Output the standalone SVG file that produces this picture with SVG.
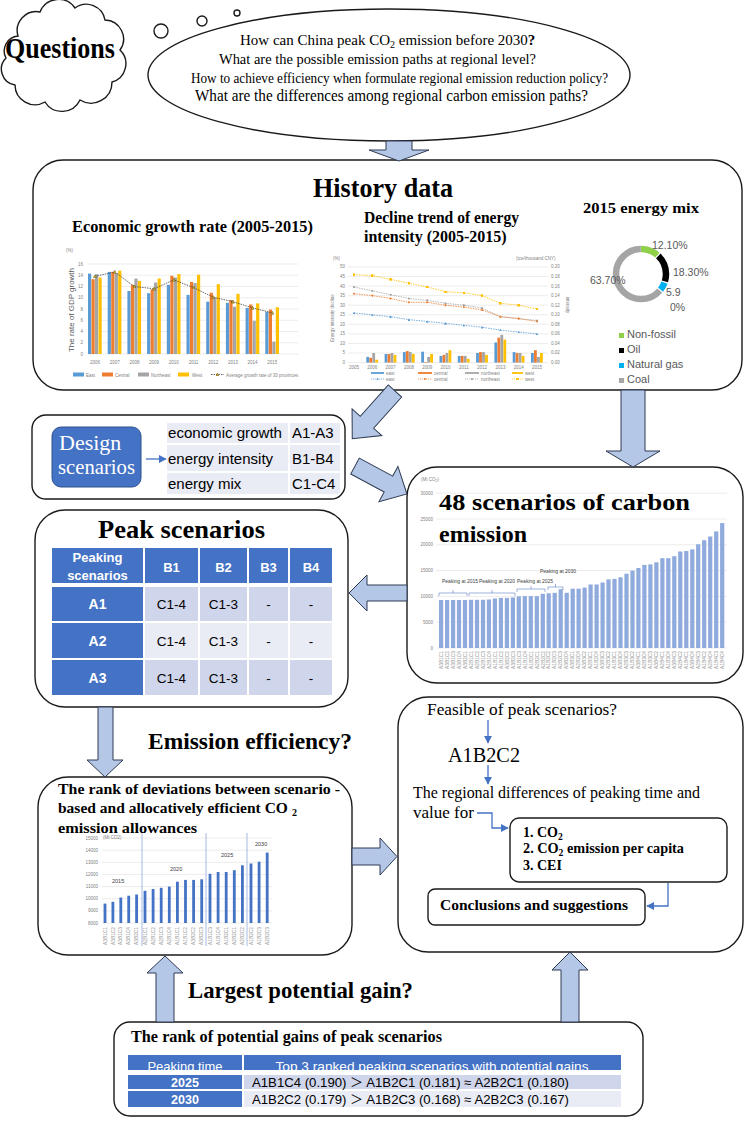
<svg xmlns="http://www.w3.org/2000/svg" width="750" height="1125" viewBox="0 0 750 1125">
<defs>
<style>
.box{fill:#fff;stroke:#1a1a1a;stroke-width:1.4}
.ba{fill:#b4c7e7;stroke:#2f3b52;stroke-width:1}
.sf{font-family:"Liberation Serif","Times New Roman",serif}
.ss{font-family:"Liberation Sans",Arial,sans-serif}
.bd{font-weight:bold}
.g{stroke:#d9d9d9;stroke-width:0.5}
.tk{font-family:"Liberation Sans",Arial,sans-serif;font-size:4.5px;fill:#7f7f7f}
.cb{fill:#5b9bd5}.co{fill:#ed7d31}.cg{fill:#a5a5a5}.cy{fill:#ffc000}
.tl{stroke:#4472c4;stroke-width:1.3;fill:none}
.b48{fill:#8faadc}
.brk{fill:#4472c4}
.xl{font-family:"Liberation Sans",Arial,sans-serif;font-size:4.8px;fill:#8c8c8c}
.hd{fill:#4472c4}
.r1{fill:#cfd5ea}.r2{fill:#e9ebf5}
.wt{fill:#fff}
</style>
<marker id="ah" viewBox="0 0 10 10" refX="9" refY="5" markerWidth="6" markerHeight="6" orient="auto"><path d="M0,0 L10,5 L0,10 z" fill="#4472c4"/></marker>
<marker id="my" viewBox="0 0 4 4" refX="2" refY="2" markerWidth="2.6" markerHeight="2.6" markerUnits="userSpaceOnUse"><rect width="4" height="4" fill="#ffc000"/></marker>
<marker id="mg" viewBox="0 0 4 4" refX="2" refY="2" markerWidth="2.2" markerHeight="2.2" markerUnits="userSpaceOnUse"><circle cx="2" cy="2" r="2" fill="#a5a5a5"/></marker>
<marker id="mo" viewBox="0 0 4 4" refX="2" refY="2" markerWidth="2.6" markerHeight="2.6" markerUnits="userSpaceOnUse"><path d="M2,0 L4,2 L2,4 L0,2 z" fill="#ed7d31"/></marker>
<marker id="mb" viewBox="0 0 4 4" refX="2" refY="2" markerWidth="2.6" markerHeight="2.6" markerUnits="userSpaceOnUse"><path d="M2,0 L4,4 L0,4 z" fill="#5b9bd5"/></marker>
<marker id="mt" viewBox="0 0 4 4" refX="2" refY="2" markerWidth="3.6" markerHeight="3.6" markerUnits="userSpaceOnUse"><path d="M2,0.2 L3.8,3.6 L0.2,3.6 z" fill="#d6b23a" stroke="#5a4a10" stroke-width="0.5"/></marker>
<clipPath id="hdr"><rect x="128" y="1055" width="493" height="15"/></clipPath>
</defs>
<rect width="750" height="1125" fill="#fff"/>

<g id="questions-cloud">
<path class="box" d="M18,36 A19,19 0 0 1 40,12 A20,20 0 0 1 75,8 A19,19 0 0 1 105,20 A19,19 0 0 1 120,50 A19,19 0 0 1 112,82 A21,21 0 0 1 80,100 A20,20 0 0 1 45,102 A20,20 0 0 1 15,85 A16,16 0 0 1 6,58 A15,15 0 0 1 18,36 Z"/>
<text class="sf bd" x="5" y="58" font-size="30" textLength="110" lengthAdjust="spacingAndGlyphs">Questions</text>
</g>

<g id="questions-bubble">
<circle class="box" cx="161" cy="31" r="7"/>
<circle class="box" cx="202" cy="21" r="5"/>
<circle class="box" cx="237" cy="13" r="3"/>
<ellipse class="box" cx="389" cy="75" rx="241" ry="66"/>
<text class="sf" x="240" y="45" font-size="15">How can China peak CO<tspan font-size="10" dy="3">2</tspan><tspan dy="-3"> emission before 2030<tspan font-weight="bold">?</tspan></tspan></text>
<text class="sf" x="219" y="64" font-size="15" textLength="317" lengthAdjust="spacingAndGlyphs">What are the possible emission paths at regional level?</text>
<text class="sf" x="191" y="83" font-size="14" textLength="417" lengthAdjust="spacingAndGlyphs">How to achieve efficiency when formulate regional emission reduction policy?</text>
<text class="sf" x="195" y="101" font-size="16.5" textLength="393" lengthAdjust="spacingAndGlyphs">What are the differences among regional carbon emission paths?</text>
</g>

<g id="history">
<rect class="box" x="33" y="160" width="709" height="230" rx="30"/>
<text class="sf bd" x="313" y="197" font-size="27" textLength="140" lengthAdjust="spacingAndGlyphs">History data</text>
<text class="sf bd" x="72" y="232" font-size="16.5" textLength="241" lengthAdjust="spacingAndGlyphs">Economic growth rate (2005-2015)</text>
<text class="sf bd" x="364" y="223" font-size="16" textLength="155" lengthAdjust="spacingAndGlyphs">Decline trend of energy</text>
<text class="sf bd" x="364" y="242" font-size="16">intensity (2005-2015)</text>
<text class="sf bd" x="583" y="213" font-size="15.5" textLength="116" lengthAdjust="spacingAndGlyphs">2015 energy mix</text>

<!-- chart 1 -->
<g class="g">
<line x1="88" y1="354" x2="298" y2="354"/><line x1="88" y1="342.75" x2="298" y2="342.75"/><line x1="88" y1="331.5" x2="298" y2="331.5"/><line x1="88" y1="320.25" x2="298" y2="320.25"/><line x1="88" y1="309" x2="298" y2="309"/><line x1="88" y1="297.75" x2="298" y2="297.75"/><line x1="88" y1="286.5" x2="298" y2="286.5"/><line x1="88" y1="275.25" x2="298" y2="275.25"/><line x1="88" y1="264" x2="298" y2="264"/>
</g>
<g class="tk" text-anchor="end">
<text x="83" y="355.5">0</text><text x="83" y="344.2">2</text><text x="83" y="333">4</text><text x="83" y="321.7">6</text><text x="83" y="310.5">8</text><text x="83" y="299.2">10</text><text x="83" y="288">12</text><text x="83" y="276.7">14</text><text x="83" y="265.5">16</text>
</g>
<text class="tk" x="66" y="252">(%)</text>
<text class="ss" transform="translate(74,310) rotate(-90)" text-anchor="middle" font-size="7" fill="#595959" textLength="84" lengthAdjust="spacingAndGlyphs">The rate of GDP growth</text>
<g transform="translate(88,354)"><rect class="cb" x="0" y="-80.4" width="3.2" height="80.4"/><rect class="co" x="3.5" y="-74.8" width="3.2" height="74.8"/><rect class="cg" x="7" y="-79.9" width="3.2" height="79.9"/><rect class="cy" x="10.5" y="-76.5" width="3.2" height="76.5"/></g>
<g transform="translate(107.7,354)"><rect class="cb" x="0" y="-82.1" width="3.2" height="82.1"/><rect class="co" x="3.5" y="-82.1" width="3.2" height="82.1"/><rect class="cg" x="7" y="-81" width="3.2" height="81"/><rect class="cy" x="10.5" y="-83.3" width="3.2" height="83.3"/></g>
<g transform="translate(127.4,354)"><rect class="cb" x="0" y="-63" width="3.2" height="63"/><rect class="co" x="3.5" y="-69.2" width="3.2" height="69.2"/><rect class="cg" x="7" y="-75.4" width="3.2" height="75.4"/><rect class="cy" x="10.5" y="-73.1" width="3.2" height="73.1"/></g>
<g transform="translate(147.1,354)"><rect class="cb" x="0" y="-60.8" width="3.2" height="60.8"/><rect class="co" x="3.5" y="-64.7" width="3.2" height="64.7"/><rect class="cg" x="7" y="-71.4" width="3.2" height="71.4"/><rect class="cy" x="10.5" y="-75.4" width="3.2" height="75.4"/></g>
<g transform="translate(166.8,354)"><rect class="cb" x="0" y="-69.2" width="3.2" height="69.2"/><rect class="co" x="3.5" y="-78.2" width="3.2" height="78.2"/><rect class="cg" x="7" y="-76.5" width="3.2" height="76.5"/><rect class="cy" x="10.5" y="-79.9" width="3.2" height="79.9"/></g>
<g transform="translate(186.5,354)"><rect class="cb" x="0" y="-59.1" width="3.2" height="59.1"/><rect class="co" x="3.5" y="-72" width="3.2" height="72"/><rect class="cg" x="7" y="-70.9" width="3.2" height="70.9"/><rect class="cy" x="10.5" y="-79.3" width="3.2" height="79.3"/></g>
<g transform="translate(206.2,354)"><rect class="cb" x="0" y="-52.3" width="3.2" height="52.3"/><rect class="co" x="3.5" y="-61.3" width="3.2" height="61.3"/><rect class="cg" x="7" y="-56.3" width="3.2" height="56.3"/><rect class="cy" x="10.5" y="-69.8" width="3.2" height="69.8"/></g>
<g transform="translate(225.9,354)"><rect class="cb" x="0" y="-51.2" width="3.2" height="51.2"/><rect class="co" x="3.5" y="-54" width="3.2" height="54"/><rect class="cg" x="7" y="-47.3" width="3.2" height="47.3"/><rect class="cy" x="10.5" y="-60.2" width="3.2" height="60.2"/></g>
<g transform="translate(245.6,354)"><rect class="cb" x="0" y="-46.1" width="3.2" height="46.1"/><rect class="co" x="3.5" y="-49.5" width="3.2" height="49.5"/><rect class="cg" x="7" y="-33.2" width="3.2" height="33.2"/><rect class="cy" x="10.5" y="-50.6" width="3.2" height="50.6"/></g>
<g transform="translate(265.3,354)"><rect class="cb" x="0" y="-42.2" width="3.2" height="42.2"/><rect class="co" x="3.5" y="-44.4" width="3.2" height="44.4"/><rect class="cg" x="7" y="-12.4" width="3.2" height="12.4"/><rect class="cy" x="10.5" y="-46.7" width="3.2" height="46.7"/></g>
<polyline points="95,276.4 114.7,271.9 134.4,286.5 154.1,288.8 173.8,279.8 193.5,287.6 213.2,297.2 232.9,301.7 252.6,307.9 272.3,312.9" fill="none" stroke="#404040" stroke-width="0.8" stroke-dasharray="1.5,1" marker-start="url(#mt)" marker-mid="url(#mt)" marker-end="url(#mt)"/>
<g class="tk" text-anchor="middle" fill="#595959">
<text x="95" y="364">2006</text><text x="114.7" y="364">2007</text><text x="134.4" y="364">2008</text><text x="154.1" y="364">2009</text><text x="173.8" y="364">2010</text><text x="193.5" y="364">2011</text><text x="213.2" y="364">2012</text><text x="232.9" y="364">2013</text><text x="252.6" y="364">2014</text><text x="272.3" y="364">2015</text>
</g>
<rect class="cb" x="73" y="372.5" width="11" height="4"/><text class="tk" x="86" y="376.5">East</text>
<rect class="co" x="102" y="372.5" width="11" height="4"/><text class="tk" x="115" y="376.5">Central</text>
<rect class="cg" x="138" y="372.5" width="11" height="4"/><text class="tk" x="151" y="376.5">Northeast</text>
<rect class="cy" x="178" y="372.5" width="11" height="4"/><text class="tk" x="192" y="376.5">West</text>
<polyline points="211,374.5 217.5,374.5 224,374.5" fill="none" stroke="#404040" stroke-width="0.8" stroke-dasharray="1.5,1" marker-mid="url(#mt)"/>
<text class="tk" x="226" y="376.5">Average growth rate of 30 provinces</text>

<!-- chart 2 -->
<g class="g">
<line x1="348" y1="362.6" x2="548" y2="362.6"/><line x1="348" y1="353" x2="548" y2="353"/><line x1="348" y1="343.5" x2="548" y2="343.5"/><line x1="348" y1="333.9" x2="548" y2="333.9"/><line x1="348" y1="324.3" x2="548" y2="324.3"/><line x1="348" y1="314.8" x2="548" y2="314.8"/><line x1="348" y1="305.2" x2="548" y2="305.2"/><line x1="348" y1="295.7" x2="548" y2="295.7"/><line x1="348" y1="286.1" x2="548" y2="286.1"/><line x1="348" y1="276.5" x2="548" y2="276.5"/><line x1="348" y1="266.9" x2="548" y2="266.9"/>
</g>
<g class="tk" font-size="4" text-anchor="end">
<text x="345" y="364">0</text><text x="345" y="354.4">5</text><text x="345" y="344.9">10</text><text x="345" y="335.3">15</text><text x="345" y="325.7">20</text><text x="345" y="316.2">25</text><text x="345" y="306.6">30</text><text x="345" y="297.1">35</text><text x="345" y="287.5">40</text><text x="345" y="277.9">45</text><text x="345" y="268.3">50</text>
</g>
<g class="tk" font-size="4">
<text x="551" y="364">0.00</text><text x="551" y="354.4">0.02</text><text x="551" y="344.9">0.04</text><text x="551" y="335.3">0.06</text><text x="551" y="325.7">0.08</text><text x="551" y="316.2">0.10</text><text x="551" y="306.6">0.12</text><text x="551" y="297.1">0.14</text><text x="551" y="287.5">0.16</text><text x="551" y="277.9">0.18</text><text x="551" y="268.3">0.20</text>
</g>
<text class="tk" font-size="4" x="333" y="260">(%)</text>
<text class="tk" font-size="4" x="516" y="260">(tce/thousand CNY)</text>
<text class="tk" font-size="4.5" transform="translate(334,318) rotate(-90)" text-anchor="middle">Energy intensity decline</text>
<text class="tk" font-size="4.5" transform="translate(566,305) rotate(90)" text-anchor="middle">intensity</text>
<g transform="translate(372.3,362.6)"><rect class="cb" x="-6" y="-5.7" width="2.8" height="5.7"/><rect class="co" x="-3" y="-4.8" width="2.8" height="4.8"/><rect class="cg" x="0" y="-9.6" width="2.8" height="9.6"/><rect class="cy" x="3" y="-2.9" width="2.8" height="2.9"/></g>
<g transform="translate(390.6,362.6)"><rect class="cb" x="-6" y="-8.6" width="2.8" height="8.6"/><rect class="co" x="-3" y="-8.6" width="2.8" height="8.6"/><rect class="cg" x="0" y="-9.6" width="2.8" height="9.6"/><rect class="cy" x="3" y="-7.7" width="2.8" height="7.7"/></g>
<g transform="translate(408.9,362.6)"><rect class="cb" x="-6" y="-10.5" width="2.8" height="10.5"/><rect class="co" x="-3" y="-11.5" width="2.8" height="11.5"/><rect class="cg" x="0" y="-10.5" width="2.8" height="10.5"/><rect class="cy" x="3" y="-8.6" width="2.8" height="8.6"/></g>
<g transform="translate(427.2,362.6)"><rect class="cb" x="-6" y="-10.9" width="2.8" height="10.9"/><rect class="co" x="-3" y="-0.6" width="2.8" height="0.6"/><rect class="cg" x="0" y="-5.7" width="2.8" height="5.7"/><rect class="cy" x="3" y="-8.6" width="2.8" height="8.6"/></g>
<g transform="translate(445.5,362.6)"><rect class="cb" x="-6" y="-6.7" width="2.8" height="6.7"/><rect class="co" x="-3" y="-7.7" width="2.8" height="7.7"/><rect class="cg" x="0" y="-9.6" width="2.8" height="9.6"/><rect class="cy" x="3" y="-12.4" width="2.8" height="12.4"/></g>
<g transform="translate(463.8,362.6)"><rect class="cb" x="-6" y="-6.7" width="2.8" height="6.7"/><rect class="co" x="-3" y="-6.7" width="2.8" height="6.7"/><rect class="cg" x="0" y="-6.7" width="2.8" height="6.7"/><rect class="cy" x="3" y="-3.8" width="2.8" height="3.8"/></g>
<g transform="translate(482.1,362.6)"><rect class="cb" x="-6" y="-9.6" width="2.8" height="9.6"/><rect class="co" x="-3" y="-10.5" width="2.8" height="10.5"/><rect class="cg" x="0" y="-10.5" width="2.8" height="10.5"/><rect class="cy" x="3" y="-7.7" width="2.8" height="7.7"/></g>
<g transform="translate(500.4,362.6)"><rect class="cb" x="-6" y="-20.1" width="2.8" height="20.1"/><rect class="co" x="-3" y="-24.9" width="2.8" height="24.9"/><rect class="cg" x="0" y="-27.7" width="2.8" height="27.7"/><rect class="cy" x="3" y="-23" width="2.8" height="23"/></g>
<g transform="translate(518.7,362.6)"><rect class="cb" x="-6" y="-10.5" width="2.8" height="10.5"/><rect class="co" x="-3" y="-9.6" width="2.8" height="9.6"/><rect class="cg" x="0" y="-9.6" width="2.8" height="9.6"/><rect class="cy" x="3" y="-6.7" width="2.8" height="6.7"/></g>
<g transform="translate(537,362.6)"><rect class="cb" x="-6" y="-9.6" width="2.8" height="9.6"/><rect class="co" x="-3" y="-12.4" width="2.8" height="12.4"/><rect class="cg" x="0" y="-5.7" width="2.8" height="5.7"/><rect class="cy" x="3" y="-9.6" width="2.8" height="9.6"/></g>
<polyline points="354,274.6 372.3,275.6 390.6,279.4 408.9,283.2 427.2,287 445.5,291.8 463.8,292.8 482.1,295.6 500.4,303.3 518.7,305.2 537,309" fill="none" stroke="#ffc000" stroke-width="0.8" stroke-dasharray="1.5,1" marker-start="url(#my)" marker-mid="url(#my)" marker-end="url(#my)"/>
<polyline points="354,287 372.3,290.9 390.6,294.7 408.9,298.5 427.2,300.4 445.5,303.3 463.8,305.2 482.1,308.1 500.4,316.7 518.7,318.6 537,320.5" fill="none" stroke="#a5a5a5" stroke-width="0.8" stroke-dasharray="1.5,1" marker-start="url(#mg)" marker-mid="url(#mg)" marker-end="url(#mg)"/>
<polyline points="354,293.7 372.3,295.6 390.6,298.5 408.9,302.3 427.2,302.3 445.5,305.2 463.8,307.1 482.1,310 500.4,316.7 518.7,318.6 537,321.5" fill="none" stroke="#ed7d31" stroke-width="0.8" stroke-dasharray="1.5,1" marker-start="url(#mo)" marker-mid="url(#mo)" marker-end="url(#mo)"/>
<polyline points="354,312.9 372.3,314.8 390.6,316.7 408.9,319.6 427.2,321.5 445.5,323.4 463.8,325.3 482.1,327.2 500.4,330.1 518.7,332 537,333.9" fill="none" stroke="#5b9bd5" stroke-width="0.8" stroke-dasharray="1.5,1" marker-start="url(#mb)" marker-mid="url(#mb)" marker-end="url(#mb)"/>
<g class="tk" font-size="4" text-anchor="middle">
<text x="354" y="369">2005</text><text x="372.3" y="369">2006</text><text x="390.6" y="369">2007</text><text x="408.9" y="369">2008</text><text x="427.2" y="369">2009</text><text x="445.5" y="369">2010</text><text x="463.8" y="369">2011</text><text x="482.1" y="369">2012</text><text x="500.4" y="369">2013</text><text x="518.7" y="369">2014</text><text x="537" y="369">2015</text>
</g>
<g stroke-width="1.8"><line x1="371" y1="373" x2="384" y2="373" stroke="#5b9bd5"/><line x1="418" y1="373" x2="432" y2="373" stroke="#ed7d31"/><line x1="465" y1="373" x2="479" y2="373" stroke="#a5a5a5"/><line x1="512" y1="373" x2="523" y2="373" stroke="#ffc000"/></g>
<g class="tk" font-size="3.8"><text x="386" y="374.5">east</text><text x="434" y="374.5">central</text><text x="481" y="374.5">northeast</text><text x="525" y="374.5">west</text>
<text x="386" y="380.5">east</text><text x="434" y="380.5">central</text><text x="481" y="380.5">northeast</text><text x="525" y="380.5">west</text></g>
<polyline points="371,379 377.5,379 384,379" fill="none" stroke="#5b9bd5" stroke-width="0.7" stroke-dasharray="1.2,0.8" marker-mid="url(#mb)"/>
<polyline points="418,379 425,379 432,379" fill="none" stroke="#ed7d31" stroke-width="0.7" stroke-dasharray="1.2,0.8" marker-mid="url(#mo)"/>
<polyline points="465,379 472,379 479,379" fill="none" stroke="#a5a5a5" stroke-width="0.7" stroke-dasharray="1.2,0.8" marker-mid="url(#mg)"/>
<polyline points="512,379 517.5,379 523,379" fill="none" stroke="#ffc000" stroke-width="0.7" stroke-dasharray="1.2,0.8" marker-mid="url(#my)"/>

<!-- energy mix donut -->
<g fill="none" stroke-width="6.5" transform="rotate(-90 641 274)">
<circle cx="641" cy="274" r="25" stroke="#8fcf4a" stroke-dasharray="17.8 200"/>
<circle cx="641" cy="274" r="25" stroke="#000" stroke-dasharray="27.5 200" stroke-dashoffset="-19"/>
<circle cx="641" cy="274" r="25" stroke="#00b0f0" stroke-dasharray="8.1 200" stroke-dashoffset="-47.7"/>
<circle cx="641" cy="274" r="25" stroke="#a5a5a5" stroke-dasharray="98.9 200" stroke-dashoffset="-57"/>
</g>
<g class="ss" font-size="10.5" fill="#595959">
<text x="652" y="249">12.10%</text>
<text x="673" y="276">18.30%</text>
<text x="590" y="284">63.70%</text>
<text x="666" y="296">5.9</text>
<text x="670" y="311">0%</text>
</g>
<rect x="619" y="333" width="5" height="5" fill="#8fcf4a"/>
<rect x="619" y="348" width="5" height="5" fill="#000"/>
<rect x="619" y="363" width="5" height="5" fill="#00b0f0"/>
<rect x="619" y="378" width="5" height="5" fill="#a5a5a5"/>
<g class="ss" font-size="11" fill="#595959">
<text x="627" y="338">Non-fossil</text>
<text x="627" y="353">Oil</text>
<text x="627" y="368">Natural gas</text>
<text x="627" y="383">Coal</text>
</g>
</g>

<g id="design">
<rect class="box" x="32" y="415" width="313" height="84" rx="14"/>
<rect x="52" y="427" width="89" height="60" rx="9" fill="#4472c4" stroke="#2f528f" stroke-width="1"/>
<text class="sf" x="59" y="450" font-size="22" fill="#fff">Design</text>
<text class="sf" x="58" y="474" font-size="21" fill="#fff" textLength="77" lengthAdjust="spacingAndGlyphs">scenarios</text>
<rect class="r2" x="167" y="423" width="121" height="20"/><rect class="r2" x="290" y="423" width="50" height="20"/>
<rect class="r2" x="167" y="445" width="121" height="26"/><rect class="r2" x="290" y="445" width="50" height="26"/>
<rect class="r2" x="167" y="473" width="121" height="21"/><rect class="r2" x="290" y="473" width="50" height="21"/>
<g class="ss" font-size="15" fill="#000">
<text x="168" y="438" textLength="114" lengthAdjust="spacingAndGlyphs">economic growth</text><text x="292" y="438">A1-A3</text>
<text x="168" y="464">energy intensity</text><text x="292" y="464">B1-B4</text>
<text x="168" y="489">energy mix</text><text x="292" y="489">C1-C4</text>
</g>
</g>

<g id="peak">
<rect class="box" x="35" y="510" width="313" height="197" rx="30"/>
<text class="sf bd" x="98" y="538" font-size="26" textLength="167" lengthAdjust="spacingAndGlyphs">Peak scenarios</text>
<rect class="hd" x="52" y="548" width="91" height="35"/><rect class="hd" x="145" y="548" width="53" height="35"/><rect class="hd" x="200" y="548" width="47" height="35"/><rect class="hd" x="249" y="548" width="39" height="35"/><rect class="hd" x="290" y="548" width="42" height="35"/>
<rect class="hd" x="52" y="587" width="91" height="34"/><rect class="r1" x="145" y="587" width="53" height="34"/><rect class="r1" x="200" y="587" width="47" height="34"/><rect class="r1" x="249" y="587" width="39" height="34"/><rect class="r1" x="290" y="587" width="42" height="34"/>
<rect class="hd" x="52" y="623" width="91" height="35"/><rect class="r2" x="145" y="623" width="53" height="35"/><rect class="r2" x="200" y="623" width="47" height="35"/><rect class="r2" x="249" y="623" width="39" height="35"/><rect class="r2" x="290" y="623" width="42" height="35"/>
<rect class="hd" x="52" y="660" width="91" height="35"/><rect class="r1" x="145" y="660" width="53" height="35"/><rect class="r1" x="200" y="660" width="47" height="35"/><rect class="r1" x="249" y="660" width="39" height="35"/><rect class="r1" x="290" y="660" width="42" height="35"/>
<g class="ss bd" font-size="13" fill="#fff" text-anchor="middle">
<text x="97.5" y="562">Peaking</text><text x="97.5" y="580">scenarios</text>
<text x="171.5" y="572">B1</text><text x="223.5" y="572">B2</text><text x="268.5" y="572">B3</text><text x="311" y="572">B4</text>
<text x="97.5" y="609" font-size="14">A1</text><text x="97.5" y="646" font-size="14">A2</text><text x="97.5" y="683" font-size="14">A3</text>
</g>
<g class="ss" font-size="13.5" fill="#000" text-anchor="middle">
<text x="171.5" y="609">C1-4</text><text x="223.5" y="609">C1-3</text><text x="268.5" y="609">-</text><text x="311" y="609">-</text>
<text x="171.5" y="646">C1-4</text><text x="223.5" y="646">C1-3</text><text x="268.5" y="646">-</text><text x="311" y="646">-</text>
<text x="171.5" y="683">C1-4</text><text x="223.5" y="683">C1-3</text><text x="268.5" y="683">-</text><text x="311" y="683">-</text>
</g>
</g>

<g id="scenarios48">
<rect class="box" x="407" y="467" width="336" height="216" rx="30"/>
<g class="g">
<line x1="436" y1="648" x2="727" y2="648"/><line x1="436" y1="622.2" x2="727" y2="622.2"/><line x1="436" y1="596.4" x2="727" y2="596.4"/><line x1="436" y1="570.6" x2="727" y2="570.6"/><line x1="436" y1="544.8" x2="727" y2="544.8"/><line x1="436" y1="519" x2="727" y2="519"/><line x1="436" y1="493.2" x2="727" y2="493.2"/>
</g>
<g class="tk" font-size="4.3" text-anchor="end">
<text x="433" y="649.5">0</text><text x="433" y="623.7">5000</text><text x="433" y="597.9">10000</text><text x="433" y="572.1">15000</text><text x="433" y="546.3">20000</text><text x="433" y="520.5">25000</text><text x="433" y="494.7">30000</text>
</g>
<text class="tk" font-size="5" x="421" y="481">(Mt CO<tspan font-size="3.5" dy="1">2</tspan><tspan dy="-1">)</tspan></text>
<g class="b48" transform="translate(0,648) scale(1,-1)">
<rect x="439" y="0" width="4.2" height="48"/><rect x="445" y="0" width="4.2" height="48"/><rect x="451" y="0" width="4.2" height="48"/><rect x="456.9" y="0" width="4.2" height="48"/><rect x="462.9" y="0" width="4.2" height="48"/>
<rect x="468.9" y="0" width="4.2" height="48.2"/><rect x="474.9" y="0" width="4.2" height="48.2"/><rect x="480.9" y="0" width="4.2" height="48.2"/><rect x="486.8" y="0" width="4.2" height="48.5"/><rect x="492.8" y="0" width="4.2" height="49.5"/><rect x="498.8" y="0" width="4.2" height="50.1"/><rect x="504.8" y="0" width="4.2" height="50.1"/><rect x="510.8" y="0" width="4.2" height="50.6"/>
<rect x="516.7" y="0" width="4.2" height="51.6"/><rect x="522.7" y="0" width="4.2" height="51.9"/><rect x="528.7" y="0" width="4.2" height="51.9"/><rect x="534.7" y="0" width="4.2" height="51.9"/><rect x="540.7" y="0" width="4.2" height="54.2"/>
<rect x="546.6" y="0" width="4.2" height="54.7"/><rect x="552.6" y="0" width="4.2" height="55.2"/><rect x="558.6" y="0" width="4.2" height="58.8"/>
<rect x="564.6" y="0" width="4.2" height="55.2"/><rect x="570.6" y="0" width="4.2" height="59.3"/><rect x="576.5" y="0" width="4.2" height="59.3"/><rect x="582.5" y="0" width="4.2" height="60.4"/><rect x="588.5" y="0" width="4.2" height="63.5"/><rect x="594.5" y="0" width="4.2" height="63.5"/><rect x="600.5" y="0" width="4.2" height="65.5"/><rect x="606.4" y="0" width="4.2" height="68.6"/><rect x="612.4" y="0" width="4.2" height="69.1"/><rect x="618.4" y="0" width="4.2" height="70.7"/><rect x="624.4" y="0" width="4.2" height="74.3"/><rect x="630.4" y="0" width="4.2" height="77.4"/><rect x="636.3" y="0" width="4.2" height="80"/><rect x="642.3" y="0" width="4.2" height="83.1"/><rect x="648.3" y="0" width="4.2" height="83.6"/><rect x="654.3" y="0" width="4.2" height="85.7"/><rect x="660.3" y="0" width="4.2" height="89.8"/><rect x="666.2" y="0" width="4.2" height="89.8"/><rect x="672.2" y="0" width="4.2" height="91.8"/><rect x="678.2" y="0" width="4.2" height="96.5"/><rect x="684.2" y="0" width="4.2" height="97"/><rect x="690.2" y="0" width="4.2" height="98.6"/><rect x="696.1" y="0" width="4.2" height="103.7"/><rect x="702.1" y="0" width="4.2" height="107.8"/><rect x="708.1" y="0" width="4.2" height="111.5"/><rect x="714.1" y="0" width="4.2" height="116.6"/><rect x="720.1" y="0" width="4.2" height="124.9"/>
</g>
<g class="xl" text-anchor="end">
<text transform="translate(442.8,651) rotate(-90)">A3B1C1</text><text transform="translate(448.8,651) rotate(-90)">A3B1C2</text><text transform="translate(454.8,651) rotate(-90)">A3B1C3</text><text transform="translate(460.7,651) rotate(-90)">A3B1C4</text><text transform="translate(466.7,651) rotate(-90)">A3B2C1</text>
<text transform="translate(472.7,651) rotate(-90)">A2B1C1</text><text transform="translate(478.7,651) rotate(-90)">A2B1C2</text><text transform="translate(484.7,651) rotate(-90)">A2B1C3</text><text transform="translate(490.6,651) rotate(-90)">A2B1C4</text><text transform="translate(496.6,651) rotate(-90)">A1B1C1</text><text transform="translate(502.6,651) rotate(-90)">A1B1C2</text><text transform="translate(508.6,651) rotate(-90)">A3B2C2</text><text transform="translate(514.6,651) rotate(-90)">A3B2C3</text>
<text transform="translate(520.5,651) rotate(-90)">A1B1C3</text><text transform="translate(526.5,651) rotate(-90)">A1B1C4</text><text transform="translate(532.5,651) rotate(-90)">A1B2C1</text><text transform="translate(538.5,651) rotate(-90)">A2B2C1</text><text transform="translate(544.5,651) rotate(-90)">A2B2C2</text>
<text transform="translate(550.4,651) rotate(-90)">A1B2C2</text><text transform="translate(556.4,651) rotate(-90)">A1B2C3</text><text transform="translate(562.4,651) rotate(-90)">A2B2C3</text>
<text transform="translate(568.4,651) rotate(-90)">A3B2C4</text><text transform="translate(574.4,651) rotate(-90)">A3B3C1</text><text transform="translate(580.3,651) rotate(-90)">A2B2C4</text><text transform="translate(586.3,651) rotate(-90)">A3B3C2</text><text transform="translate(592.3,651) rotate(-90)">A2B3C1</text><text transform="translate(598.3,651) rotate(-90)">A1B2C4</text><text transform="translate(604.3,651) rotate(-90)">A3B3C3</text><text transform="translate(610.2,651) rotate(-90)">A2B3C2</text><text transform="translate(616.2,651) rotate(-90)">A1B3C1</text><text transform="translate(622.2,651) rotate(-90)">A3B3C4</text><text transform="translate(628.2,651) rotate(-90)">A2B3C3</text><text transform="translate(634.2,651) rotate(-90)">A1B3C2</text><text transform="translate(640.1,651) rotate(-90)">A3B4C1</text><text transform="translate(646.1,651) rotate(-90)">A2B3C4</text><text transform="translate(652.1,651) rotate(-90)">A1B3C3</text><text transform="translate(658.1,651) rotate(-90)">A3B4C2</text><text transform="translate(664.1,651) rotate(-90)">A2B4C1</text><text transform="translate(670,651) rotate(-90)">A1B3C4</text><text transform="translate(676,651) rotate(-90)">A3B4C3</text><text transform="translate(682,651) rotate(-90)">A2B4C2</text><text transform="translate(688,651) rotate(-90)">A1B4C1</text><text transform="translate(694,651) rotate(-90)">A3B4C4</text><text transform="translate(699.9,651) rotate(-90)">A2B4C3</text><text transform="translate(705.9,651) rotate(-90)">A1B4C2</text><text transform="translate(711.9,651) rotate(-90)">A2B4C4</text><text transform="translate(717.9,651) rotate(-90)">A1B4C3</text><text transform="translate(723.9,651) rotate(-90)">A1B4C4</text>
</g>
<g fill="none" stroke="#5b7fc4" stroke-width="0.6">
<path d="M439,596 V593 H467 V596 M453,593 V590"/>
<path d="M469,596 V593 H515 V596 M492,593 V590"/>
<path d="M517,592 V589 H545 V592 M531,589 V586"/>
<path d="M548,590 V587 H563 V590 M555.5,587 V584"/>
</g>
<g class="ss" font-size="5" fill="#404040">
<text x="442" y="583">Peaking at 2015</text><text x="479" y="583">Peaking at 2020</text><text x="517" y="583">Peaking at 2025</text><text x="540" y="573">Peaking at 2030</text>
</g>
<text class="sf bd" x="439" y="510" font-size="24" textLength="251" lengthAdjust="spacingAndGlyphs">48 scenarios of carbon</text>
<text class="sf bd" x="439" y="542" font-size="24">emission</text>
</g>

<g id="rank">
<rect class="box" x="38" y="777" width="314" height="178" rx="30"/>
<g class="g">
<line x1="102" y1="923" x2="272" y2="923"/><line x1="102" y1="910.9" x2="272" y2="910.9"/><line x1="102" y1="898.7" x2="272" y2="898.7"/><line x1="102" y1="886.6" x2="272" y2="886.6"/><line x1="102" y1="874.4" x2="272" y2="874.4"/><line x1="102" y1="862.3" x2="272" y2="862.3"/><line x1="102" y1="850.2" x2="272" y2="850.2"/><line x1="102" y1="838" x2="272" y2="838"/>
</g>
<g class="tk" font-size="4.3" text-anchor="end">
<text x="98" y="924.5">8000</text><text x="98" y="912.4">9000</text><text x="98" y="900.2">10000</text><text x="98" y="888.1">11000</text><text x="98" y="875.9">12000</text><text x="98" y="863.8">13000</text><text x="98" y="851.7">14000</text><text x="98" y="839.5">15000</text>
</g>
<text class="tk" font-size="4" x="103" y="839" fill="#bfbfbf">(Mt CO2)</text>
<g stroke="#8faadc" stroke-width="0.8"><line x1="142" y1="833" x2="142" y2="946"/><line x1="206" y1="833" x2="206" y2="946"/><line x1="247" y1="833" x2="247" y2="946"/></g>
<g class="brk" transform="translate(0,923) scale(1,-1)">
<rect x="103.6" y="0" width="2.8" height="19.4"/><rect x="111.5" y="0" width="2.8" height="21.2"/><rect x="119.4" y="0" width="2.8" height="25.5"/><rect x="127.3" y="0" width="2.8" height="27.3"/><rect x="135.2" y="0" width="2.8" height="28.5"/>
<rect x="143.6" y="0" width="2.8" height="32.2"/><rect x="151.7" y="0" width="2.8" height="34"/><rect x="159.8" y="0" width="2.8" height="35.2"/><rect x="167.9" y="0" width="2.8" height="36.4"/><rect x="176" y="0" width="2.8" height="41.3"/><rect x="184.1" y="0" width="2.8" height="43.1"/><rect x="192.2" y="0" width="2.8" height="43.1"/><rect x="200.3" y="0" width="2.8" height="43.7"/>
<rect x="208.6" y="0" width="2.8" height="49.2"/><rect x="216.7" y="0" width="2.8" height="51"/><rect x="224.8" y="0" width="2.8" height="51"/><rect x="232.9" y="0" width="2.8" height="52.8"/><rect x="241" y="0" width="2.8" height="57.7"/>
<rect x="249.6" y="0" width="2.8" height="59.5"/><rect x="257.7" y="0" width="2.8" height="61.3"/><rect x="265.8" y="0" width="2.8" height="70.4"/>
</g>
<g class="ss" font-size="5.5" fill="#404040"><text x="112" y="883">2015</text><text x="170" y="871">2020</text><text x="221" y="857">2025</text><text x="255" y="846">2030</text></g>
<g class="xl" font-size="4.3" text-anchor="end">
<text transform="translate(106.6,927) rotate(-90)">A3B1C1</text><text transform="translate(114.5,927) rotate(-90)">A3B1C2</text><text transform="translate(122.4,927) rotate(-90)">A3B1C3</text><text transform="translate(130.3,927) rotate(-90)">A3B1C4</text><text transform="translate(138.2,927) rotate(-90)">A3B2C1</text>
<text transform="translate(146.6,927) rotate(-90)">A2B1C1</text><text transform="translate(154.7,927) rotate(-90)">A2B1C2</text><text transform="translate(162.8,927) rotate(-90)">A2B1C3</text><text transform="translate(170.9,927) rotate(-90)">A2B1C4</text><text transform="translate(179,927) rotate(-90)">A1B1C1</text><text transform="translate(187.1,927) rotate(-90)">A1B1C2</text><text transform="translate(195.2,927) rotate(-90)">A3B2C2</text><text transform="translate(203.3,927) rotate(-90)">A3B2C3</text>
<text transform="translate(211.6,927) rotate(-90)">A1B1C3</text><text transform="translate(219.7,927) rotate(-90)">A1B1C4</text><text transform="translate(227.8,927) rotate(-90)">A1B2C1</text><text transform="translate(235.9,927) rotate(-90)">A2B2C1</text><text transform="translate(244,927) rotate(-90)">A2B2C2</text>
<text transform="translate(252.6,927) rotate(-90)">A1B2C2</text><text transform="translate(260.7,927) rotate(-90)">A1B2C3</text><text transform="translate(268.8,927) rotate(-90)">A2B2C3</text>
</g>
<g class="sf bd" font-size="15.5" fill="#000">
<text x="58" y="794" textLength="282" lengthAdjust="spacingAndGlyphs">The rank of deviations between scenario -</text>
<text x="58" y="813">based and allocatively efficient CO<tspan font-size="10" dx="4" dy="3">2</tspan></text>
<text x="58" y="833" textLength="139" lengthAdjust="spacingAndGlyphs">emission allowances</text>
</g>
</g>

<text class="sf bd" x="148" y="749" font-size="23" textLength="204" lengthAdjust="spacingAndGlyphs">Emission  efficiency?</text>

<g id="feasible">
<rect class="box" x="398" y="697" width="345" height="255" rx="30"/>
<text class="sf" x="427" y="715" font-size="17" textLength="190" lengthAdjust="spacingAndGlyphs">Feasible  of  peak scenarios?</text>
<text class="sf" x="448" y="762" font-size="20" textLength="72" lengthAdjust="spacingAndGlyphs">A1B2C2</text>
<text class="sf" x="413" y="798" font-size="17" textLength="287" lengthAdjust="spacingAndGlyphs">The regional  differences of peaking time and</text>
<text class="sf" x="413" y="818" font-size="17">value for</text>
<rect class="box" x="510" y="818" width="217" height="64" rx="9" stroke-width="1.1"/>
<g class="sf bd" font-size="14">
<text x="523" y="837">1. CO<tspan font-size="9.5" dy="3">2</tspan></text>
<text x="523" y="853" textLength="161" lengthAdjust="spacingAndGlyphs">2. CO<tspan font-size="9.5" dy="3">2</tspan><tspan dy="-3"> emission per capita</tspan></text>
<text x="523" y="870">3. CEI</text>
</g>
<rect class="box" x="428" y="889" width="217" height="36" rx="7" stroke-width="1.1"/>
<text class="sf bd" x="440" y="910" font-size="15.5" textLength="188" lengthAdjust="spacingAndGlyphs">Conclusions and suggestions</text>
</g>

<text class="sf bd" x="188" y="998" font-size="23" textLength="225" lengthAdjust="spacingAndGlyphs">Largest potential gain?</text>

<g id="potential">
<rect class="box" x="114" y="1022" width="529" height="94" rx="16"/>
<text class="sf bd" x="131" y="1042" font-size="16.5" textLength="311" lengthAdjust="spacingAndGlyphs">The rank of potential gains of peak scenarios</text>
<rect class="hd" x="128" y="1055" width="114" height="15"/><rect class="hd" x="244" y="1055" width="377" height="15"/>
<g clip-path="url(#hdr)" class="ss" font-size="13" fill="#fff" text-anchor="middle">
<text x="185" y="1071">Peaking time</text>
<text x="432" y="1071" textLength="313" lengthAdjust="spacingAndGlyphs">Top 3 ranked peaking scenarios with potential gains</text>
</g>
<rect class="hd" x="128" y="1075" width="114" height="14"/><rect class="r1" x="244" y="1075" width="377" height="14"/>
<rect class="hd" x="128" y="1091" width="114" height="16"/><rect class="r2" x="244" y="1091" width="377" height="16"/>
<g class="ss bd" font-size="12.5" fill="#fff" text-anchor="middle"><text x="185" y="1087">2025</text><text x="185" y="1104">2030</text></g>
<g class="ss" font-size="12.5" fill="#000">
<text x="252" y="1087" textLength="317" lengthAdjust="spacingAndGlyphs">A1B1C4 (0.190) <tspan font-family="'Noto Sans CJK SC',sans-serif">＞</tspan> A1B2C1 (0.181) ≈ A2B2C1 (0.180)</text>
<text x="252" y="1104" textLength="317" lengthAdjust="spacingAndGlyphs">A1B2C2 (0.179) <tspan font-family="'Noto Sans CJK SC',sans-serif">＞</tspan> A1B2C3 (0.168) ≈ A2B2C3 (0.167)</text>
</g>
</g>

<g id="connectors">
<polygon class="ba" points="386,141 412,141 412,150 429,150 399,161 369,150 386,150"/>
<polygon class="ba" points="621,390 645,390 645,451 660,451 633,467 606,451 621,451"/>
<polygon class="ba" transform="translate(395,391) rotate(131.9)" points="0,-9 42,-9 42,-20 64,0 42,20 42,9 0,9"/>
<polygon class="ba" transform="translate(355,466) rotate(28.3)" points="0,-9 38,-9 38,-20 59,0 38,20 38,9 0,9"/>
<polygon class="ba" points="407,585 367,585 367,575 349,593 367,611 367,601 407,601"/>
<polygon class="ba" points="98,707 113,707 113,760 123,760 105,777 87,760 98,760"/>
<polygon class="ba" points="352,848 380,848 380,838 397,856.5 380,875 380,865 352,865"/>
<polygon class="ba" points="156,1022 174,1022 174,973 183,973 165,956 147,973 156,973"/>
<polygon class="ba" points="561,1022 579,1022 579,970 588,970 570,952 552,970 561,970"/>
<line class="tl" x1="146" y1="459" x2="166" y2="459" marker-end="url(#ah)"/>
<line class="tl" x1="488" y1="720" x2="488" y2="743" marker-end="url(#ah)"/>
<line class="tl" x1="488" y1="765" x2="488" y2="784" marker-end="url(#ah)"/>
<path class="tl" d="M477,813 H492 V828 H508" marker-end="url(#ah)"/>
<path class="tl" d="M668,883 V906 H647" marker-end="url(#ah)"/>
</g>
</svg>
